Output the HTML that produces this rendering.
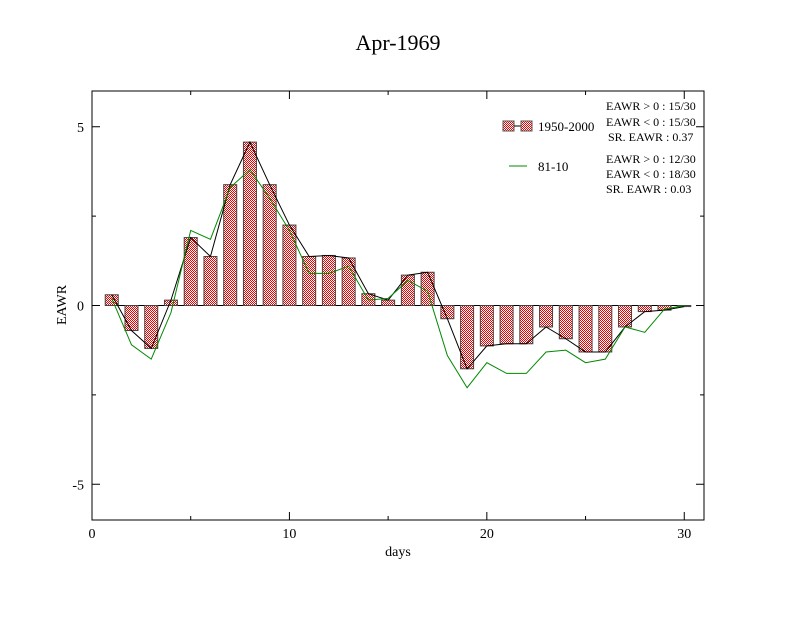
<!DOCTYPE html>
<html><head><meta charset="utf-8"><style>
body{margin:0;background:#fff;}
svg text{font-family:"Liberation Serif",serif;}
</style></head><body>
<svg id="chart" width="792" height="612" viewBox="0 0 792 612" xmlns="http://www.w3.org/2000/svg">
<defs>
<pattern id="chk" width="2" height="2" patternUnits="userSpaceOnUse">
<rect width="2" height="2" fill="#fff"/><rect width="1" height="1" fill="#e00"/><rect x="1" y="1" width="1" height="1" fill="#e00"/>
</pattern>
</defs>
<rect width="792" height="612" fill="#fff"/>
<text x="398" y="50" font-size="22" text-anchor="middle">Apr-1969</text>
<g id="plot"></g>
<rect x="92" y="91" width="612" height="429" fill="none" stroke="#000" stroke-width="1"/>
<text x="398" y="556" font-size="14" text-anchor="middle">days</text>
<text x="66" y="305" font-size="14" text-anchor="middle" transform="rotate(-90 66 305)">EAWR</text>
<g>
<rect x="503" y="121" width="11" height="10" fill="url(#chk)" stroke="#555"/>
<line x1="514" y1="126" x2="521" y2="126" stroke="#000"/>
<rect x="521" y="121" width="11" height="10" fill="url(#chk)" stroke="#555"/>
<text x="538" y="131" font-size="13">1950-2000</text>
<line x1="509" y1="166" x2="527" y2="166" stroke="#080"/>
<text x="538" y="171" font-size="13">81-10</text>
<g font-size="12">
<text x="606" y="110">EAWR &gt; 0 : 15/30</text>
<text x="606" y="126">EAWR &lt; 0 : 15/30</text>
<text x="608" y="141">SR. EAWR :  0.37</text>
<text x="606" y="163">EAWR &gt; 0 : 12/30</text>
<text x="606" y="178">EAWR &lt; 0 : 18/30</text>
<text x="606" y="193">SR. EAWR :  0.03</text>
</g>
</g>
</svg>
<script>
const days=[1,2,3,4,5,6,7,8,9,10,11,12,13,14,15,16,17,18,19,20,21,22,23,24,25,26,27,28,29,30];
const eawr=[0.3,-0.7,-1.2,0.15,1.9,1.37,3.38,4.57,3.38,2.25,1.37,1.4,1.33,0.33,0.15,0.85,0.93,-0.37,-1.77,-1.13,-1.07,-1.07,-0.6,-0.93,-1.3,-1.3,-0.6,-0.17,-0.13,-0.03];
const clim=[0.2,-1.1,-1.5,-0.2,2.1,1.85,3.3,3.8,3.0,2.1,0.9,0.9,1.1,0.15,0.2,0.7,0.4,-1.4,-2.3,-1.6,-1.9,-1.9,-1.3,-1.25,-1.6,-1.5,-0.6,-0.75,-0.1,0];
const xTicks=[0,10,20,30];
const yTicks=[-5,0,5];
const NS='http://www.w3.org/2000/svg';
const X=v=>92+v*(612/31);
const Y=v=>305.5-v*(214.5/6);
const g=document.getElementById('plot');
function mk(t,a){const e=document.createElementNS(NS,t);for(const k in a)e.setAttribute(k,a[k]);g.appendChild(e);return e;}
// ticks
for(const t of xTicks){
 const l=mk('line',{x1:X(t),x2:X(t),y1:520,y2:512,stroke:'#000'});
 
 
 const l2=mk('line',{x1:X(t),x2:X(t),y1:91,y2:99,stroke:'#000'});
 
 
 const tx=mk('text',{x:X(t),y:538,'font-size':14,'text-anchor':'middle'});tx.textContent=t;
 
 
}
for(let t=5;t<31;t+=10){
 const l=mk('line',{x1:X(t),x2:X(t),y1:520,y2:516,stroke:'#000'});
 
 
 const l2=mk('line',{x1:X(t),x2:X(t),y1:91,y2:95,stroke:'#000'});
 
 
}
for(const t of yTicks){
 const l=mk('line',{x1:92,x2:100,y1:Y(t),y2:Y(t),stroke:'#000'});
 
 
 const l2=mk('line',{x1:696,x2:704,y1:Y(t),y2:Y(t),stroke:'#000'});
 
 
 const tx=mk('text',{x:84,y:Y(t)+5,'font-size':14,'text-anchor':'end'});tx.textContent=t;
 
 
}
for(const t of [-2.5,2.5]){
 const l=mk('line',{x1:92,x2:96,y1:Y(t),y2:Y(t),stroke:'#000'});
 
 
 const l2=mk('line',{x1:700,x2:704,y1:Y(t),y2:Y(t),stroke:'#000'});
 
 
}
const zl=mk('line',{x1:X(days[0])-6.5,x2:X(days[days.length-1])+6.5,y1:Y(0),y2:Y(0),stroke:'#000'});


// bars
days.forEach((d,i)=>{
 const v=eawr[i];const y0=Y(0),y1=Y(v);
 const r=mk('rect',{x:X(d)-6.5,y:Math.min(y0,y1),width:13,height:Math.abs(y1-y0),fill:'url(#chk)',stroke:'#444','stroke-width':1});
 
 
});
const p1=mk('polyline',{points:days.map((d,i)=>X(d)+','+Y(eawr[i])).join(' '),fill:'none',stroke:'#000','stroke-width':1});


const p2=mk('polyline',{points:days.map((d,i)=>X(d)+','+Y(clim[i])).join(' '),fill:'none',stroke:'#080','stroke-width':1});


</script>
</body></html>
